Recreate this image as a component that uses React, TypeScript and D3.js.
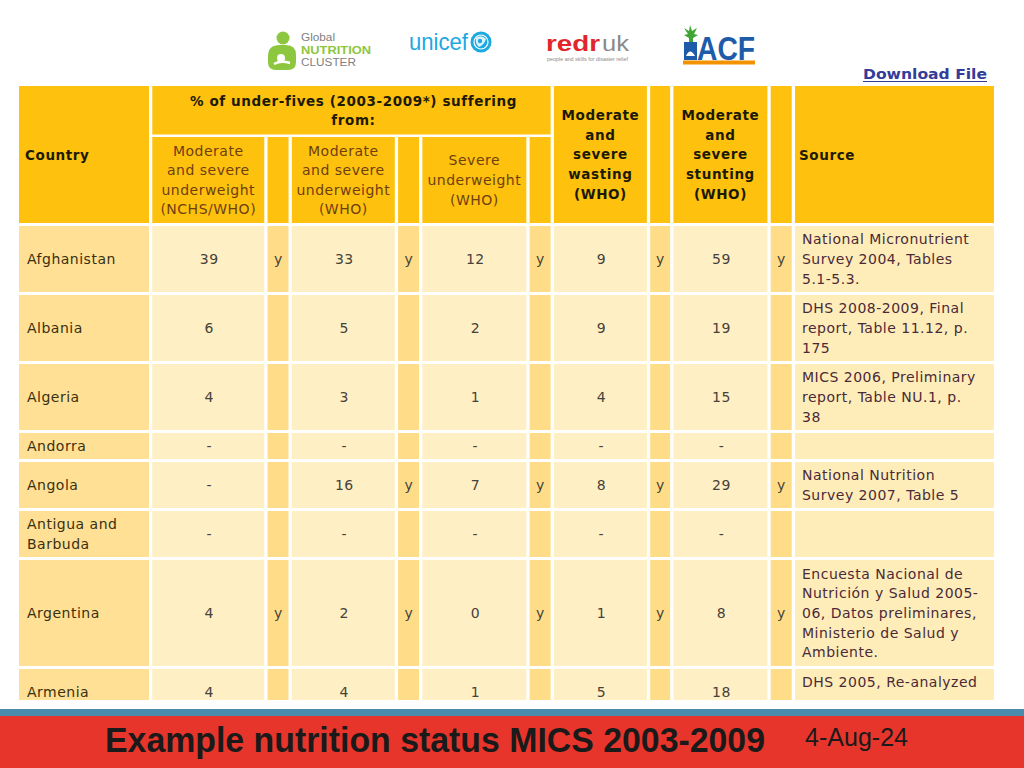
import React from "react";
import * as d3 from "d3";

// ---------- DATA ----------
const countries: string[][] = [
  ["Afghanistan"],
  ["Albania"],
  ["Algeria"],
  ["Andorra"],
  ["Angola"],
  ["Antigua and", "Barbuda"],
  ["Argentina"],
  ["Armenia"],
];
const underweightNCHS = ["39", "6", "4", "-", "-", "-", "4", "4"];
const underweightNCHSFlag = ["y", "", "", "", "", "", "y", ""];
const underweightWHO = ["33", "5", "3", "-", "16", "-", "2", "4"];
const underweightWHOFlag = ["y", "", "", "", "y", "", "y", ""];
const severeUnderweight = ["12", "2", "1", "-", "7", "-", "0", "1"];
const severeUnderweightFlag = ["y", "", "", "", "y", "", "y", ""];
const wasting = ["9", "9", "4", "-", "8", "-", "1", "5"];
const wastingFlag = ["y", "", "", "", "y", "", "y", ""];
const stunting = ["59", "19", "15", "-", "29", "-", "8", "18"];
const stuntingFlag = ["y", "", "", "", "y", "", "y", ""];
const sources: string[][] = [
  ["National Micronutrient", "Survey 2004, Tables", "5.1-5.3."],
  ["DHS 2008-2009, Final", "report, Table 11.12, p.", "175"],
  ["MICS 2006, Preliminary", "report, Table NU.1, p.", "38"],
  [],
  ["National Nutrition", "Survey 2007, Table 5"],
  [],
  [
    "Encuesta Nacional de",
    "Nutrición y Salud 2005-",
    "06, Datos preliminares,",
    "Ministerio de Salud y",
    "Ambiente.",
  ],
  ["DHS 2005, Re-analyzed", ""],
];

const groupHeader = ["% of under-fives (2003-2009*) suffering", "from:"];
const subHeaders: string[][] = [
  ["Moderate", "and severe", "underweight", "(NCHS/WHO)"],
  ["Moderate", "and severe", "underweight", "(WHO)"],
  ["Severe", "underweight", "(WHO)"],
];
const wastingHeader = ["Moderate", "and", "severe", "wasting", "(WHO)"];
const stuntingHeader = ["Moderate", "and", "severe", "stunting", "(WHO)"];
const titleText = "Example nutrition status MICS 2003-2009";
const dateText = "4-Aug-24";

// ---------- LAYOUT ----------
const colKeys = ["country", "c1", "f1", "c2", "f2", "c3", "f3", "c4", "f4", "c5", "f5", "source"];
const colWidths = [130, 112, 21, 103, 21, 104, 21, 93, 20, 94, 21, 199];
const gap = 3.27;
const tableLeft = 19;
const colLefts = colWidths.map((_, i) => tableLeft + d3.sum(colWidths.slice(0, i)) + gap * i);
const xLeft = d3.scaleOrdinal<string, number>().domain(colKeys).range(colLefts);
const xWidth = d3.scaleOrdinal<string, number>().domain(colKeys).range(colWidths);

const headTop = 86;
const headRow1H = 48.5;
const headRow2Top = 137;
const headBottom = 223;
const lineH = 19.6;
const rowGap = 3;
const rowLines = countries.map((c, i) => Math.max(c.length, sources[i].length, 1));
const rowHeights = rowLines.map((n) => n * 20 + 6);
const bodyTop = 226;
const rowTops = rowHeights.map((_, i) => bodyTop + d3.sum(rowHeights.slice(0, i)) + rowGap * i);

const FONT = "'DejaVu Sans', Verdana, sans-serif";
const LOGO_FONT = "'Liberation Sans', Arial, sans-serif";
const NARROW = "'Liberation Sans Narrow', 'Liberation Sans', Arial, sans-serif";
const C_HEAD = "#FEC10E";
const C_COUNTRY = "#FFE095";
const C_VALUE = "#FFEFC4";
const C_FLAG = "#FFDD88";
const C_SOURCE = "#FFEDB9";

function Lines({ x, cy, lines, anchor = "middle", weight = 400, fill = "#333", size = 14, ls = 0.5 }: any) {
  const n = lines.length;
  const y0 = cy - ((n - 1) * lineH) / 2 + size * 0.36;
  return (
    <text x={x} y={y0} textAnchor={anchor} fontFamily={FONT} fontSize={size} fontWeight={weight} fill={fill} letterSpacing={ls}>
      {lines.map((l: string, i: number) => (
        <tspan key={i} x={x} y={y0 + i * lineH}>
          {l}
        </tspan>
      ))}
    </text>
  );
}

export default function App() {
  const valueCols: [string, string[], string, string[]][] = [
    ["c1", underweightNCHS, "f1", underweightNCHSFlag],
    ["c2", underweightWHO, "f2", underweightWHOFlag],
    ["c3", severeUnderweight, "f3", severeUnderweightFlag],
    ["c4", wasting, "f4", wastingFlag],
    ["c5", stunting, "f5", stuntingFlag],
  ];
  const cx = (k: string) => xLeft(k) + xWidth(k) / 2;
  const right = (k: string) => xLeft(k) + xWidth(k);
  const headCy = (headTop + headBottom) / 2;
  const sub2Cy = (headRow2Top + headBottom) / 2;

  return (
    <svg width={1024} height={768} style={{ position: "absolute", left: 0, top: 0, background: "#fff" }}>
      <rect x={0} y={0} width={1024} height={768} fill="#fff" />
      <defs>
        <clipPath id="tableClip">
          <rect x={0} y={80} width={1024} height={620} />
        </clipPath>
      </defs>

      {/* ---------- logos ---------- */}
      <g>
        {/* Global Nutrition Cluster */}
        <circle cx={283} cy={38} r={6.5} fill="#8DC63F" />
        <path d="M268,56 Q268,45 280,45 L286,45 Q296,45 296,55 L296,62 Q296,70 288,70 L276,70 Q268,70 268,62 Z" fill="#8DC63F" />
        <circle cx={281} cy={58} r={4} fill="#fff" />
        <path d="M274,64 Q281,60 290,63" stroke="#fff" strokeWidth={2.5} fill="none" />
        <text x={301} y={41} fontFamily={LOGO_FONT} fontSize={10} fill="#808080" textLength={34} lengthAdjust="spacingAndGlyphs">Global</text>
        <text x={301} y={53.5} fontFamily={LOGO_FONT} fontSize={11} fontWeight={700} fill="#8DC63F" textLength={70} lengthAdjust="spacingAndGlyphs">NUTRITION</text>
        <text x={301} y={65.5} fontFamily={LOGO_FONT} fontSize={10} fill="#808080" textLength={55} lengthAdjust="spacingAndGlyphs">CLUSTER</text>

        {/* unicef */}
        <text x={409} y={50} fontFamily={LOGO_FONT} fontSize={24} fill="#1CA9E0" textLength={59} lengthAdjust="spacingAndGlyphs">unicef</text>
        <circle cx={481} cy={42} r={10.5} fill="#1CA9E0" />
        <circle cx={481} cy={42} r={7} fill="none" stroke="#fff" strokeWidth={1.2} />
        <path d="M476,38 Q481,34 486,39 Q484,45 479,47 Q475,44 476,38 Z" fill="#fff" opacity={0.85} />
        <circle cx={480} cy={41} r={2.2} fill="#1CA9E0" />

        {/* redr uk */}
        <text x={546} y={51} fontFamily={LOGO_FONT} fontSize={22} fontWeight={700} fill="#E0262B" textLength={54} lengthAdjust="spacingAndGlyphs">redr</text>
        <text x={602} y={51} fontFamily={LOGO_FONT} fontSize={22} fill="#8A8A8A" textLength={27} lengthAdjust="spacingAndGlyphs">uk</text>
        <text x={547} y={60.5} fontFamily={LOGO_FONT} fontSize={5} fill="#8A8A8A" textLength={81} lengthAdjust="spacingAndGlyphs">people and skills for disaster relief</text>

        {/* ACF */}
        <path d="M690,25 L692,31 L697,28 L694,34 L698,35 L693,38 L693,42 L689,42 L689,38 L684,35 L688,34 L684,28 L689,31 Z" fill="#3FA535" />
        <rect x={684} y={42} width={13} height={18} fill="#1E5BA8" />
        <path d="M686,56 Q690,47 695,56 Z" fill="#fff" />
        <text x={697} y={60} fontFamily={NARROW} fontSize={34} fontWeight={700} fill="#1E5BA8" textLength={58} lengthAdjust="spacingAndGlyphs">ACF</text>
        <rect x={683} y={60.5} width={72} height={4} fill="#F39200" />
      </g>

      {/* Download File link */}
      <text x={863} y={79} fontFamily={FONT} fontSize={13.5} fontWeight={700} fill="#333C99" textLength={124} lengthAdjust="spacingAndGlyphs">Download File</text>
      <line x1={863} x2={987} y1={81.5} y2={81.5} stroke="#333C99" strokeWidth={1.2} />

      <g clipPath="url(#tableClip)">
        {/* ---------- header ---------- */}
        {["country", "c4", "f4", "c5", "f5", "source"].map((k) => (
          <rect key={k} x={xLeft(k)} y={headTop} width={xWidth(k)} height={headBottom - headTop} fill={C_HEAD} />
        ))}
        <rect x={xLeft("c1")} y={headTop} width={right("f3") - xLeft("c1")} height={headRow1H} fill={C_HEAD} />
        {["c1", "f1", "c2", "f2", "c3", "f3"].map((k) => (
          <rect key={k} x={xLeft(k)} y={headRow2Top} width={xWidth(k)} height={headBottom - headRow2Top} fill={C_HEAD} />
        ))}
        <Lines x={xLeft("country") + 6} cy={headCy + 1} lines={["Country"]} anchor="start" weight={700} fill="#1c1a05" size={13.5} ls={0.6} />
        <Lines x={(xLeft("c1") + right("f3")) / 2 + 2} cy={headTop + headRow1H / 2 + 0.5} lines={groupHeader} weight={700} fill="#1c1a05" size={13.5} ls={0.6} />
        {subHeaders.map((h, i) => (
          <Lines key={i} x={cx(["c1", "c2", "c3"][i])} cy={sub2Cy} lines={h} fill="#6E3F10" size={14} ls={0.5} />
        ))}
        <Lines x={cx("c4")} cy={headCy} lines={wastingHeader} weight={700} fill="#1c1a05" size={13.5} ls={0.6} />
        <Lines x={cx("c5")} cy={headCy} lines={stuntingHeader} weight={700} fill="#1c1a05" size={13.5} ls={0.6} />
        <Lines x={xLeft("source") + 4} cy={headCy + 1} lines={["Source"]} anchor="start" weight={700} fill="#1c1a05" size={13.5} ls={0.6} />

        {/* ---------- body ---------- */}
        {countries.map((c, r) => {
          const top = rowTops[r];
          const h = rowHeights[r];
          const cy = top + h / 2;
          return (
            <g key={r}>
              <rect x={xLeft("country")} y={top} width={xWidth("country")} height={h} fill={C_COUNTRY} />
              {valueCols.map(([vk, vals, fk, flags]) => (
                <g key={vk}>
                  <rect x={xLeft(vk)} y={top} width={xWidth(vk)} height={h} fill={C_VALUE} />
                  <rect x={xLeft(fk)} y={top} width={xWidth(fk)} height={h} fill={C_FLAG} />
                  <Lines x={cx(vk) + 1} cy={cy} lines={[vals[r]]} fill="#45423a" />
                  {flags[r] ? <Lines x={cx(fk)} cy={cy} lines={[flags[r]]} fill="#45423a" ls={0} /> : null}
                </g>
              ))}
              <rect x={xLeft("source")} y={top} width={xWidth("source")} height={h} fill={C_SOURCE} />
              <Lines x={xLeft("country") + 8} cy={cy} lines={c} anchor="start" fill="#3a3010" />
              {sources[r].length ? (
                <Lines x={xLeft("source") + 7} cy={cy} lines={sources[r]} anchor="start" fill="#4a2a38" />
              ) : null}
            </g>
          );
        })}
      </g>

      {/* ---------- footer ---------- */}
      <rect x={0} y={709} width={1024} height={7} fill="#4A8CAB" />
      <rect x={0} y={716} width={1024} height={52} fill="#E8352B" />
      <text x={105} y={752} fontFamily={NARROW} fontSize={35} fontWeight={700} fill="#1a1a1a" textLength={660} lengthAdjust="spacingAndGlyphs">{titleText}</text>
      <text x={805} y={746} fontFamily={NARROW} fontSize={25} fill="#1a1a1a" textLength={103} lengthAdjust="spacingAndGlyphs">{dateText}</text>
    </svg>
  );
}
